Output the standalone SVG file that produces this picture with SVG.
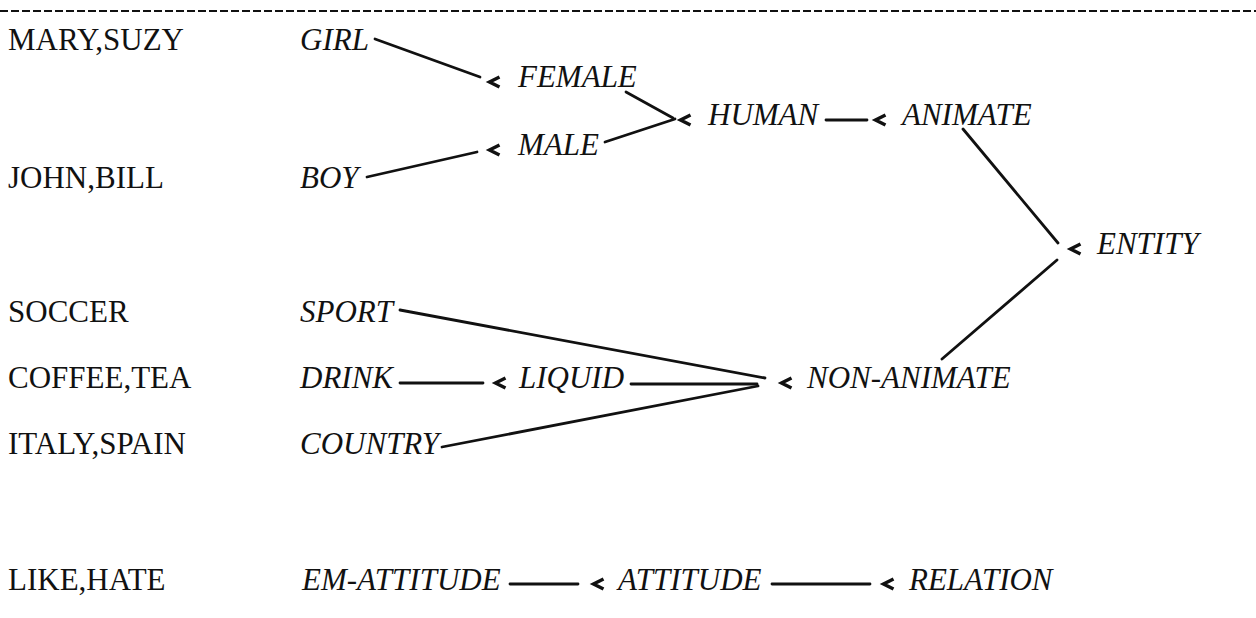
<svg xmlns="http://www.w3.org/2000/svg" xmlns:xlink="http://www.w3.org/1999/xlink" width="1256" height="618" viewBox="0 0 1256 618">
  <style>
    text { font-family: "Liberation Serif", "Times New Roman", serif; font-size: 31px; fill: #111; }
    .word { font-style: normal; }
    .cat { font-style: italic; }
    .edge { stroke: #111; stroke-width: 2.8; fill: none; stroke-linecap: round; }
    .rule { stroke: #111; stroke-width: 2; stroke-dasharray: 8 3; }
    .chev { stroke: #111; stroke-width: 3.4; fill: none; stroke-linejoin: miter; stroke-linecap: butt; }
  </style>
  <defs>
    <!-- small heavy chevron that precedes every category label -->
    <path id="chev" class="chev" d="M5.5,-5 L-4.5,0 L5.5,5"/>
  </defs>

  <rect width="1256" height="618" fill="#fff"/>

  <!-- dashed rule across the top -->
  <line class="rule" x1="0" y1="11" x2="1256" y2="11"/>

  <!-- word column -->
  <g id="words">
    <text class="word" x="8" y="50">MARY,SUZY</text>
    <text class="word" x="8" y="188">JOHN,BILL</text>
    <text class="word" x="8" y="322">SOCCER</text>
    <text class="word" x="8" y="388">COFFEE,TEA</text>
    <text class="word" x="8" y="454">ITALY,SPAIN</text>
    <text class="word" x="8" y="590">LIKE,HATE</text>
  </g>

  <!-- connectors -->
  <g id="connectors">
    <line class="edge" x1="375" y1="39" x2="480" y2="77"/>
    <line class="edge" x1="367" y1="177" x2="477" y2="152"/>
    <line class="edge" x1="626" y1="92" x2="673" y2="118"/>
    <line class="edge" x1="605" y1="142" x2="675" y2="119"/>
    <line class="edge" x1="826" y1="120" x2="867" y2="120"/>
    <line class="edge" x1="963" y1="129" x2="1058" y2="243"/>
    <line class="edge" x1="942" y1="359" x2="1057" y2="260"/>
    <line class="edge" x1="400" y1="310" x2="765" y2="378"/>
    <line class="edge" x1="400" y1="383" x2="483" y2="383"/>
    <line class="edge" x1="631" y1="384" x2="757" y2="384"/>
    <line class="edge" x1="442" y1="447" x2="758" y2="386"/>
    <line class="edge" x1="510" y1="584" x2="578" y2="584"/>
    <line class="edge" x1="772" y1="584" x2="870" y2="584"/>
  </g>

  <!-- category nodes -->
  <g id="girl"><text class="cat" x="300" y="50">GIRL</text></g>
  <g id="boy"><text class="cat" x="300" y="188">BOY</text></g>
  <g id="female"><use xlink:href="#chev" x="494" y="82"/><text class="cat" x="518" y="87">FEMALE</text></g>
  <g id="male"><use xlink:href="#chev" x="494" y="150"/><text class="cat" x="518" y="155">MALE</text></g>
  <g id="human"><use xlink:href="#chev" x="685" y="120"/><text class="cat" x="708" y="125">HUMAN</text></g>
  <g id="animate"><use xlink:href="#chev" x="880" y="120"/><text class="cat" x="902" y="125">ANIMATE</text></g>
  <g id="entity"><use xlink:href="#chev" x="1075" y="249"/><text class="cat" x="1097" y="254">ENTITY</text></g>
  <g id="sport"><text class="cat" x="300" y="322">SPORT</text></g>
  <g id="drink"><text class="cat" x="300" y="388">DRINK</text></g>
  <g id="liquid"><use xlink:href="#chev" x="500" y="383"/><text class="cat" x="519" y="388">LIQUID</text></g>
  <g id="non-animate"><use xlink:href="#chev" x="786" y="383"/><text class="cat" x="807" y="388">NON-ANIMATE</text></g>
  <g id="country"><text class="cat" x="300" y="454">COUNTRY</text></g>
  <g id="em-attitude"><text class="cat" x="302" y="590">EM-ATTITUDE</text></g>
  <g id="attitude"><use xlink:href="#chev" x="598" y="584"/><text class="cat" x="618" y="590">ATTITUDE</text></g>
  <g id="relation"><use xlink:href="#chev" x="888" y="584"/><text class="cat" x="909" y="590">RELATION</text></g>
</svg>
